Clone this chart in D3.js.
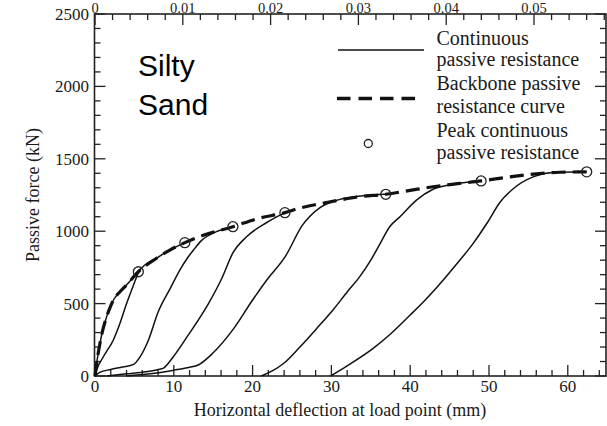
<!DOCTYPE html>
<html>
<head>
<meta charset="utf-8">
<script src="https://cdn.jsdelivr.net/npm/d3@7/dist/d3.min.js"></script>
<style>
  html, body { margin: 0; padding: 0; background: #fff; }
  svg { display: block; }
  .serif { font-family: "Liberation Serif", "Times New Roman", serif; fill: #1a1a1a; }
</style>
</head>
<body>
<svg id="chart" width="607" height="426"></svg>
<script>
// Passive force vs horizontal deflection, silty sand backfill

// Top axis: deflection normalised by wall height
const topTicks = [0, 0.01, 0.02, 0.03, 0.04, 0.05];
const bottomTicks = [0, 10, 20, 30, 40, 50, 60];
const yTicks = [0, 500, 1000, 1500, 2000, 2500];

// Backbone passive resistance curve (mm, kN)
const backbone = [
  [0, 0], [0.3, 120], [0.63, 226], [1.0, 320], [1.48, 410], [2.0, 485], [2.4, 530],
  [3.17, 582], [4.02, 630], [5.5, 720], [7.8, 813], [9.5, 870], [11.4, 921],
  [13.75, 972], [17.5, 1031], [20.5, 1085], [24.1, 1128], [26.0, 1160],
  [28.6, 1190], [31.0, 1215], [33.5, 1238], [36.9, 1255], [40.0, 1282],
  [42.9, 1307], [46.0, 1328], [49.0, 1347], [52.0, 1370], [55.6, 1394],
  [59.0, 1407], [62.4, 1410]
];

// Continuous passive resistance, one array per load cycle (mm, kN)
const cycle1 = [
  [0, 0], [0.3, 120], [0.63, 226], [1.0, 320], [1.48, 410], [2.0, 485], [2.4, 530],
  [3.17, 582], [4.02, 630], [5.5, 720]
];
const cycle2 = [
  [0, 0], [0.2, 40], [1.06, 133], [2.33, 249], [3.17, 364], [4.02, 502],
  [4.65, 594], [5.29, 686], [5.6, 725], [7.8, 813], [9.5, 870], [11.4, 921]
];
const cycle3 = [
  [0, 0], [0.6, 25], [2.0, 45], [3.5, 62], [4.9, 80], [5.7, 130], [6.8, 250],
  [8.0, 440], [9.5, 600], [10.8, 735], [11.8, 820], [12.5, 870], [13.5, 935],
  [15.4, 997], [17.5, 1031]
];
const cycle4 = [
  [1.5, 0], [4.0, 15], [6.5, 30], [8.2, 46], [8.7, 55], [9.9, 130], [11.8, 280],
  [14.4, 500], [16.1, 675], [17.5, 850], [19.2, 960], [21.8, 1060], [24.1, 1128]
];
const cycle5 = [
  [4.0, 0], [7.0, 15], [10.0, 40], [12.0, 60], [13.1, 76], [15.0, 160],
  [17.5, 320], [20.0, 525], [21.8, 663], [24.2, 830], [26.3, 1040],
  [28.6, 1165], [31.0, 1218], [34.0, 1245], [36.9, 1255]
];
const cycle6 = [
  [21.1, 0], [22.5, 35], [24.0, 90], [26.0, 200], [28.0, 320], [30.2, 456],
  [32.0, 580], [33.6, 686], [35.0, 800], [36.2, 916], [37.4, 1031],
  [38.7, 1100], [40.8, 1215], [42.9, 1290], [45.5, 1325], [49.0, 1347]
];
const cycle7 = [
  [29.9, 0], [32.0, 70], [35.3, 191], [37.5, 290], [40.0, 421], [42.0, 530],
  [44.2, 663], [46.0, 780], [48.0, 916], [49.8, 1060], [51.4, 1200],
  [53.0, 1290], [55.6, 1375], [58.1, 1405], [62.4, 1410]
];
const cycles = [cycle1, cycle2, cycle3, cycle4, cycle5, cycle6, cycle7];

// Peak continuous passive resistance (mm, kN)
const peakDeflection = [5.5, 11.4, 17.5, 24.1, 36.9, 49.0, 62.4];
const peakForce = [720, 921, 1031, 1128, 1255, 1347, 1410];

const legendLabels = [
  ["Continuous", "passive resistance"],
  ["Backbone passive", "resistance curve"],
  ["Peak continuous", "passive resistance"]
];

const svg = d3.select("#chart");
const plotLeft = 94.5, plotRight = 606, plotTop = 14, plotBottom = 376;

const x = d3.scaleLinear().domain([0, 64.85]).range([plotLeft + 0.5, plotRight]);
const xTop = d3.scaleLinear().domain([0, 0.0582]).range([plotLeft + 0.5, plotRight]);
const y = d3.scaleLinear().domain([0, 2500]).range([plotBottom, plotTop]);

// Ticks (pointing inward) on all four sides
const tickG = svg.append("g").attr("stroke", "#222").attr("stroke-width", 1.3);
const majorLen = 11, minorLen = 6;

d3.range(0, 65, 2).forEach(v => {
  const L = v % 10 === 0 ? majorLen : minorLen;
  tickG.append("line").attr("x1", x(v)).attr("x2", x(v)).attr("y1", plotBottom).attr("y2", plotBottom - L);
});
d3.range(0, 0.0581, 0.002).forEach(v => {
  const isMajor = Math.abs(v / 0.01 - Math.round(v / 0.01)) < 1e-6;
  const L = isMajor ? majorLen : minorLen;
  tickG.append("line").attr("x1", xTop(v)).attr("x2", xTop(v)).attr("y1", plotTop).attr("y2", plotTop + L);
});
d3.range(0, 2501, 100).forEach(v => {
  const L = v % 500 === 0 ? majorLen : minorLen;
  tickG.append("line").attr("x1", plotLeft).attr("x2", plotLeft + L).attr("y1", y(v)).attr("y2", y(v));
  tickG.append("line").attr("x1", plotRight).attr("x2", plotRight - L).attr("y1", y(v)).attr("y2", y(v));
});

// Frame
svg.append("rect")
  .attr("x", plotLeft).attr("y", plotTop)
  .attr("width", plotRight - plotLeft).attr("height", plotBottom - plotTop)
  .attr("fill", "none").attr("stroke", "#222").attr("stroke-width", 1.6);

// Tick labels
svg.append("g").selectAll("text").data(bottomTicks).join("text")
  .attr("class", "serif").attr("font-size", 17).attr("text-anchor", "middle")
  .attr("x", d => x(d)).attr("y", 392).text(d => d);

svg.append("g").selectAll("text").data(topTicks).join("text")
  .attr("class", "serif").attr("font-size", 14.5).attr("text-anchor", "middle")
  .attr("x", d => xTop(d)).attr("y", 12.9).text(d => d === 0 ? "0" : d3.format(".2f")(d));

svg.append("g").selectAll("text").data(yTicks).join("text")
  .attr("class", "serif").attr("font-size", 17).attr("text-anchor", "end")
  .attr("x", 89).attr("y", d => y(d) + 6).text(d => d);

// Axis titles
svg.append("text").attr("class", "serif").attr("font-size", 18)
  .attr("text-anchor", "middle").attr("x", 340).attr("y", 416)
  .text("Horizontal deflection at load point  (mm)");

svg.append("text").attr("class", "serif").attr("font-size", 18)
  .attr("text-anchor", "middle")
  .attr("transform", "translate(39,195) rotate(-90)")
  .text("Passive force (kN)");

// Curves
const line = d3.line().x(d => x(d[0])).y(d => y(d[1])).curve(d3.curveMonotoneX);

svg.append("g").selectAll("path").data(cycles).join("path")
  .attr("d", line).attr("fill", "none")
  .attr("stroke", "#111").attr("stroke-width", 1.5);

svg.append("path").datum(backbone)
  .attr("d", line).attr("fill", "none")
  .attr("stroke", "#111").attr("stroke-width", 3.2)
  .attr("stroke-dasharray", "14,7");

svg.append("g").selectAll("circle").data(peakDeflection).join("circle")
  .attr("cx", d => x(d)).attr("cy", (d, i) => y(peakForce[i])).attr("r", 5)
  .attr("fill", "none").attr("stroke", "#222").attr("stroke-width", 1.3);

// Legend
const lg = svg.append("g");
lg.append("line").attr("x1", 338).attr("x2", 424).attr("y1", 50).attr("y2", 50)
  .attr("stroke", "#111").attr("stroke-width", 1.6);
lg.append("line").attr("x1", 337).attr("x2", 418).attr("y1", 98.5).attr("y2", 98.5)
  .attr("stroke", "#111").attr("stroke-width", 3.4).attr("stroke-dasharray", "13.5,8");
lg.append("circle").attr("cx", 368.3).attr("cy", 143.5).attr("r", 4)
  .attr("fill", "none").attr("stroke", "#222").attr("stroke-width", 1.3);

const baselines = [[45, 66], [90, 113], [136.5, 159]];
legendLabels.forEach((pair, i) => {
  pair.forEach((t, j) => {
    lg.append("text").attr("class", "serif").attr("font-size", 20)
      .attr("x", 436.5).attr("y", baselines[i][j]).text(t);
  });
});

// Soil type annotation
svg.append("text")
  .attr("font-family", '"Liberation Sans", Arial, sans-serif')
  .attr("font-size", 30).attr("fill", "#000")
  .attr("x", 138).attr("y", 76).text("Silty");
svg.append("text")
  .attr("font-family", '"Liberation Sans", Arial, sans-serif')
  .attr("font-size", 30).attr("fill", "#000")
  .attr("x", 138).attr("y", 115).text("Sand");
</script>
</body>
</html>
